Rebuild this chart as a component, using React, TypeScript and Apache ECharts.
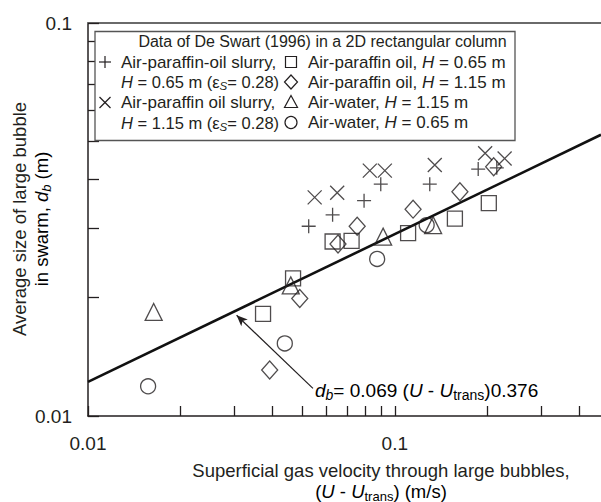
import React, { useEffect, useRef } from "react";
import * as echarts from "echarts";

// ---- data ----
const slurry065: number[][] = [
  [0.0524, 0.0304], [0.0627, 0.0325], [0.0794, 0.0353], [0.09, 0.0389],
  [0.13, 0.0389], [0.187, 0.0425], [0.215, 0.0428],
];
const slurry115: number[][] = [
  [0.0548, 0.036], [0.0649, 0.037], [0.0829, 0.0421], [0.0928, 0.0421],
  [0.135, 0.0435], [0.197, 0.0466], [0.228, 0.0452],
];
const oil065: number[][] = [
  [0.0372, 0.0182], [0.0466, 0.0224], [0.0627, 0.0278], [0.0723, 0.0279],
  [0.1105, 0.0292], [0.157, 0.0318], [0.2025, 0.0348],
];
const oil115: number[][] = [
  [0.0391, 0.0131], [0.049, 0.0199], [0.0653, 0.0274], [0.0754, 0.0304],
  [0.1147, 0.0336], [0.163, 0.0372], [0.21, 0.0431],
];
const water115: number[][] = [
  [0.01637, 0.0184], [0.0458, 0.0215], [0.0916, 0.0286], [0.1333, 0.0306],
];
const water065: number[][] = [
  [0.0157, 0.0119], [0.0438, 0.0153], [0.0876, 0.0251], [0.127, 0.0306],
];
const fitCoef = 0.069;
const fitExp = 0.376;
const fitX = [0.01, 0.47];
const arrowFrom = [0.0541, 0.01176];
const arrowTo = [0.0305, 0.01805];
const xTicks = [0.01, 0.02, 0.03, 0.04, 0.05, 0.06, 0.07, 0.08, 0.09, 0.1, 0.2, 0.3, 0.4];
const yTicks = [0.01, 0.02, 0.03, 0.04, 0.05, 0.06, 0.07, 0.08, 0.09, 0.1];
const xLabels = [0.01, 0.1];
const yLabels = [0.01, 0.1];
const xMin = 0.01;
const xMax = 0.47;
const yMin = 0.01;
const yMax = 0.1;

const INK = "#231f20";
const FONT = "Liberation Sans, Arial, Helvetica, sans-serif";

const plusPath = "path://M0,7L14,7M7,0L7,14";
const crossPath = "path://M0,0L14,14M14,0L0,14";

function decadeLabel(v: number): string {
  const l = Math.log10(v);
  if (Math.abs(l - Math.round(l)) < 1e-6) return String(+v.toPrecision(3));
  return "";
}

export default function App() {
  const ref = useRef<HTMLDivElement>(null);
  useEffect(() => {
    if (!ref.current) return;
    const chart = echarts.init(ref.current, undefined, { renderer: "svg" });

    const markerStyle = { color: "none", borderColor: INK, borderWidth: 1.3 };
    const scatter = (name: string, data: number[][], symbol: string, size: any) => ({
      name,
      type: "scatter",
      data,
      symbol,
      symbolSize: size,
      itemStyle: markerStyle,
      silent: true,
      z: 5,
    });

    const txt = { fontFamily: FONT, fill: INK };
    const makeRich = (fs: number) => ({
      n: { fontSize: fs, fontFamily: FONT, color: INK, lineHeight: 19 },
      i: { fontSize: fs, fontFamily: FONT, color: INK, fontStyle: "italic", lineHeight: 19 },
      s: {
        fontSize: 11.5, fontFamily: FONT, color: INK, fontStyle: "italic",
        lineHeight: 12, padding: [8, 0, 0, 0],
      },
    });
    const lx = 121;
    const rx = 308;
    const rows = [62, 82, 102.5, 122.5];
    const legendText = (x: number, y: number, text: string, fs: number) => ({
      type: "text",
      x,
      y,
      style: {
        text,
        rich: makeRich(fs),
        fontSize: fs,
        fontFamily: FONT,
        fill: INK,
        verticalAlign: "middle",
        align: "left",
      },
    });
    const mk = { stroke: INK, lineWidth: 1.2, fill: "none" };
    const lmx = 105;
    const rmx = 291;

    const legendChildren: any[] = [
      {
        type: "text",
        x: 322.5,
        y: 41,
        style: {
          ...txt,
          text: "Data of De Swart (1996) in a 2D rectangular column",
          fontSize: 16,
          align: "center",
          verticalAlign: "middle",
        },
      },
      legendText(lx, rows[0], "{n|Air-paraffin-oil slurry,}", 17),
      legendText(lx, rows[1], "{i|H}{n| = 0.65 m (ε}{s|S}{n|= 0.28)}", 16.5),
      legendText(lx, rows[2], "{n|Air-paraffin oil slurry,}", 17),
      legendText(lx, rows[3], "{i|H}{n| = 1.15 m (ε}{s|S}{n|= 0.28)}", 16.5),
      legendText(rx, rows[0], "{n|Air-paraffin oil, }{i|H}{n| = 0.65 m}", 17),
      legendText(rx, rows[1], "{n|Air-paraffin oil, }{i|H}{n| = 1.15 m}", 17),
      legendText(rx, rows[2], "{n|Air-water, }{i|H}{n| = 1.15 m}", 17),
      legendText(rx, rows[3], "{n|Air-water, }{i|H}{n| = 0.65 m}", 17),
      { type: "line", shape: { x1: lmx - 6, y1: rows[0], x2: lmx + 6, y2: rows[0] }, style: mk },
      { type: "line", shape: { x1: lmx, y1: rows[0] - 6, x2: lmx, y2: rows[0] + 6 }, style: mk },
      { type: "line", shape: { x1: lmx - 5.5, y1: rows[2] - 5.5, x2: lmx + 5.5, y2: rows[2] + 5.5 }, style: mk },
      { type: "line", shape: { x1: lmx - 5.5, y1: rows[2] + 5.5, x2: lmx + 5.5, y2: rows[2] - 5.5 }, style: mk },
      { type: "rect", shape: { x: rmx - 5.5, y: rows[0] - 5.5, width: 11, height: 11 }, style: mk },
      {
        type: "polygon",
        shape: { points: [[rmx, rows[1] - 7], [rmx + 6.5, rows[1]], [rmx, rows[1] + 7], [rmx - 6.5, rows[1]]] },
        style: mk,
      },
      {
        type: "polygon",
        shape: { points: [[rmx, rows[2] - 7], [rmx + 6.5, rows[2] + 5], [rmx - 6.5, rows[2] + 5]] },
        style: mk,
      },
      { type: "circle", shape: { cx: rmx, cy: rows[3], r: 6 }, style: mk },
    ].map((c) => ({ ...c, z: 11, silent: true }));

    const tickCommon = { show: true, inside: true, length: 10, lineStyle: { color: INK, width: 1.3 } };

    const option: any = {
      animation: false,
      backgroundColor: "#ffffff",
      grid: { left: 88, right: 0, top: 23, bottom: 86, containLabel: false },
      xAxis: [
        {
          type: "log",
          logBase: 10,
          min: xMin,
          max: xMax,
          axisLine: { show: true, lineStyle: { color: INK, width: 1.5 } },
          axisTick: { ...tickCommon, customValues: xTicks },
          minorTick: { show: false },
          splitLine: { show: false },
          axisLabel: {
            customValues: xLabels,
            formatter: decadeLabel,
            fontSize: 19,
            fontFamily: FONT,
            color: INK,
            margin: 18,
          },
        },
        {
          type: "log",
          logBase: 10,
          position: "top",
          min: xMin,
          max: xMax,
          axisLine: { show: true, lineStyle: { color: "#6a6a6a", width: 2 } },
          axisTick: { show: false },
          axisLabel: { show: false },
          splitLine: { show: false },
        },
      ],
      yAxis: {
        type: "log",
        logBase: 10,
        min: yMin,
        max: yMax,
        axisLine: { show: true, lineStyle: { color: INK, width: 1.5 } },
        axisTick: { ...tickCommon, length: 11, customValues: yTicks },
        splitLine: { show: false },
        axisLabel: {
          customValues: yLabels,
          formatter: decadeLabel,
          fontSize: 19,
          fontFamily: FONT,
          color: INK,
          margin: 16,
        },
      },
      series: [
        {
          type: "line",
          name: "fit",
          data: fitX.map((x) => [x, fitCoef * Math.pow(x, fitExp)]),
          showSymbol: false,
          symbol: "none",
          silent: true,
          lineStyle: { color: "#111", width: 2.6 },
          z: 4,
          markLine: {
            silent: true,
            symbol: ["none", "arrow"],
            symbolSize: [7, 11],
            label: { show: false },
            lineStyle: { color: INK, width: 1.2, type: "solid" },
            data: [[{ coord: arrowFrom }, { coord: arrowTo }]],
          },
        },
        scatter("slurry065", slurry065, plusPath, 14),
        scatter("slurry115", slurry115, crossPath, 14),
        scatter("oil065", oil065, "rect", 15),
        scatter("oil115", oil115, "diamond", [16, 18]),
        scatter("water115", water115, "triangle", [17, 17]),
        scatter("water065", water065, "circle", 15),
      ],
      graphic: [
        {
          type: "rect",
          silent: true,
          shape: { x: 95, y: 31.5, width: 420, height: 109 },
          style: { fill: "#fff", stroke: "#555", lineWidth: 1.3 },
          z: 10,
        },
        ...legendChildren,
        {
          type: "text",
          silent: true,
          x: 315,
          y: 390,
          z: 11,
          style: {
            text: "{i|d}{si|b}{n|= 0.069 (}{i|U}{n| - }{i|U}{sn|trans}{n|)0.376}",
            verticalAlign: "middle",
            rich: {
              n: { fontSize: 19, fontFamily: FONT, color: INK, lineHeight: 22 },
              i: { fontSize: 19, fontFamily: FONT, color: INK, fontStyle: "italic", lineHeight: 22 },
              si: {
                fontSize: 14, fontFamily: FONT, color: INK, fontStyle: "italic",
                lineHeight: 14, padding: [10, 0, 0, 0],
              },
              sn: {
                fontSize: 14, fontFamily: FONT, color: INK,
                lineHeight: 14, padding: [10, 0, 0, 0],
              },
            },
          },
        },
        {
          type: "text",
          silent: true,
          x: 381,
          y: 470,
          style: {
            ...txt,
            text: "Superficial gas velocity through large bubbles,",
            fontSize: 18.5,
            align: "center",
            verticalAlign: "middle",
          },
        },
        {
          type: "text",
          silent: true,
          x: 381,
          y: 491,
          style: {
            text: "{n|(}{i|U}{n| - }{i|U}{s|trans}{n|) (m/s)}",
            align: "center",
            verticalAlign: "middle",
            rich: {
              n: { fontSize: 18.5, fontFamily: FONT, color: INK, lineHeight: 22 },
              i: { fontSize: 18.5, fontFamily: FONT, color: INK, fontStyle: "italic", lineHeight: 22 },
              s: {
                fontSize: 13, fontFamily: FONT, color: INK,
                lineHeight: 13, padding: [10, 0, 0, 0],
              },
            },
          },
        },
        {
          type: "text",
          silent: true,
          x: 19,
          y: 219,
          rotation: Math.PI / 2,
          style: {
            ...txt,
            text: "Average size of large bubble",
            fontSize: 18.5,
            align: "center",
            verticalAlign: "middle",
          },
        },
        {
          type: "text",
          silent: true,
          x: 41,
          y: 219,
          rotation: Math.PI / 2,
          style: {
            text: "{n|in swarm, }{i|d}{s|b}{n| (m)}",
            align: "center",
            verticalAlign: "middle",
            rich: {
              n: { fontSize: 18.5, fontFamily: FONT, color: INK, lineHeight: 22 },
              i: { fontSize: 18.5, fontFamily: FONT, color: INK, fontStyle: "italic", lineHeight: 22 },
              s: {
                fontSize: 13, fontFamily: FONT, color: INK, fontStyle: "italic",
                lineHeight: 13, padding: [10, 0, 0, 0],
              },
            },
          },
        },
      ],
    };
    chart.setOption(option);
    return () => chart.dispose();
  }, []);

  return (
    <div
      ref={ref}
      style={{ position: "absolute", left: 0, top: 0, width: 601, height: 502, background: "#fff" }}
    />
  );
}
